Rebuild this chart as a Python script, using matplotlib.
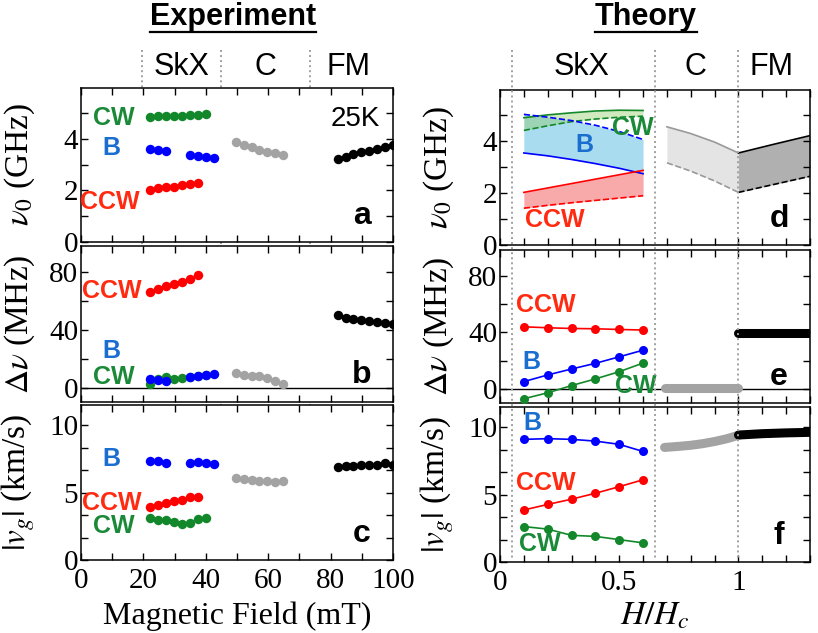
import numpy as np
import matplotlib
matplotlib.use('Agg')
import matplotlib.pyplot as plt
import matplotlib.transforms as mtransforms
from matplotlib.ticker import MultipleLocator, FuncFormatter
from matplotlib.lines import Line2D

plt.rcParams['font.family'] = 'serif'
plt.rcParams['font.serif'] = ['Liberation Serif', 'DejaVu Serif']
plt.rcParams['mathtext.fontset'] = 'stix'
SANS = 'Liberation Sans'

# colours
RED, BLUE, GREEN, GRAY = '#ff0000', '#0000ff', '#13882a', '#a3a3a3'
T_RED, T_BLUE, T_GREEN = '#ff2a10', '#1a6ecf', '#1a8a38'

# ---------------- experiment (field in mT) ----------------
field_cw = [22.2, 24.7, 27.3, 29.8, 32.4, 34.9, 37.5, 40.0]
field_ccw = [22.2, 24.7, 27.3, 29.8, 32.4, 34.9, 37.5]
field_b = [22.2, 24.7, 27.3, 34.9, 37.5, 40.0, 42.5]
field_c = [49.6, 52.1, 54.7, 57.2, 59.7, 62.3, 64.8]
field_fm = [82.3, 84.8, 87.3, 89.9, 92.4, 94.9, 97.5, 100.0]

# resonance frequency (GHz)
f_cw = [4.87, 4.88, 4.89, 4.90, 4.91, 4.92, 4.94, 4.96]
f_b = [3.62, 3.58, 3.55, 3.38, 3.35, 3.30, 3.25]
f_ccw = [2.02, 2.08, 2.12, 2.15, 2.20, 2.24, 2.30]
f_c = [3.88, 3.77, 3.67, 3.58, 3.51, 3.45, 3.36]
f_fm = [3.22, 3.32, 3.41, 3.49, 3.55, 3.62, 3.67, 3.75]

# nonreciprocity (MHz)
dn_ccw = [66.0, 68.5, 70.0, 71.5, 73.0, 75.5, 78.0]
dn_cw = [2.8, 6.0, 7.4, 5.8, 6.7, 7.0, 8.0, 8.5]
dn_b = [5.8, 5.0, 4.6, 7.4, 7.8, 9.0, 9.5]
dn_c = [9.8, 8.6, 8.2, 8.0, 6.5, 4.5, 2.4]
dn_fm = [50.0, 48.3, 47.2, 46.5, 46.0, 45.5, 45.0, 44.0]

# group velocity (km/s)
vg_b = [7.36, 7.33, 7.16, 7.16, 7.28, 7.16, 7.10]
vg_ccw = [3.95, 4.08, 4.20, 4.37, 4.44, 4.64, 4.64]
vg_cw = [3.09, 3.00, 2.96, 2.84, 2.69, 2.77, 3.04, 3.09]
vg_c = [6.12, 5.98, 5.93, 5.89, 5.89, 5.82, 5.89]
vg_fm = [6.91, 6.96, 6.99, 7.03, 7.03, 7.06, 7.18, 7.06]

# ---------------- theory (H/Hc) ----------------
h_skx = [0.1, 0.2, 0.3, 0.4, 0.5, 0.6]
th_cw_hi = [4.91, 5.02, 5.10, 5.17, 5.20, 5.19]
th_cw_lo = [4.42, 4.60, 4.76, 4.86, 4.93, 4.97]
th_b_hi = [5.04, 4.93, 4.80, 4.62, 4.38, 4.07]
th_b_lo = [3.55, 3.44, 3.30, 3.14, 2.96, 2.75]
th_ccw_hi = [2.03, 2.20, 2.37, 2.54, 2.71, 2.88]
th_ccw_lo = [1.42, 1.53, 1.63, 1.72, 1.81, 1.90]

h_c = [0.70, 0.80, 0.90, 1.00]
th_c_hi = [4.56, 4.30, 3.97, 3.55]
th_c_lo = [3.17, 2.85, 2.47, 2.03]
h_fm = [1.00, 1.15, 1.30]
th_fm_hi = [3.55, 3.89, 4.22]
th_fm_lo = [2.03, 2.34, 2.65]

th_dn_ccw = [43.8, 43.1, 42.6, 42.4, 41.9, 41.5]
th_dn_b = [5.1, 9.8, 14.0, 18.0, 22.6, 27.3]
th_dn_cw = [-7.0, -2.8, 2.3, 7.0, 12.1, 18.2]
h_dn_c = [0.69, 1.00]
th_dn_c = [0.5, 0.5]
h_dn_fm = [1.00, 1.30]
th_dn_fm = [39.6, 39.6]

th_vg_b = [9.10, 9.15, 9.10, 8.97, 8.73, 8.20]
th_vg_ccw = [3.86, 4.27, 4.66, 5.10, 5.59, 6.10]
th_vg_cw = [2.63, 2.44, 1.98, 1.90, 1.66, 1.42]
h_vg_c = [0.69, 0.75, 0.80, 0.85, 0.90, 0.95, 1.00]
th_vg_c = [8.50, 8.58, 8.66, 8.78, 8.94, 9.14, 9.40]
h_vg_fm = [1.00, 1.10, 1.20, 1.30]
th_vg_fm = [9.42, 9.52, 9.58, 9.62]

exp_bounds = [19.5, 44.8, 73.4]
th_bounds = [0.052, 0.65, 1.0]

W, H = 818, 633
fig = plt.figure(figsize=(W / 100, H / 100), dpi=100)


def px_axes(x0, x1, y0, y1):
    return fig.add_axes([x0 / W, 1 - y1 / H, (x1 - x0) / W, (y1 - y0) / H])


axa = px_axes(81, 393, 88, 242)
axb = px_axes(81, 393, 246, 402)
axc = px_axes(81, 393, 405, 560)
axd = px_axes(500, 810, 90, 245)
axe = px_axes(500, 810, 250, 403)
axf = px_axes(500, 810, 407, 562)


def style(ax, xmaj, xmin, ymaj, ymin):
    ax.xaxis.set_major_locator(MultipleLocator(xmaj))
    ax.xaxis.set_minor_locator(MultipleLocator(xmin))
    ax.yaxis.set_major_locator(MultipleLocator(ymaj))
    ax.yaxis.set_minor_locator(MultipleLocator(ymin))
    ax.tick_params(which='both', direction='in', top=True, right=True, width=1.0,
                   labelsize=21, pad=2)
    ax.tick_params(which='major', length=5)
    ax.tick_params(which='minor', length=5)
    ax.tick_params(axis='x', pad=6)
    for s in ax.spines.values():
        s.set_linewidth(1.1)


for ax in (axa, axb, axc):
    ax.set_xlim(0, 100)
for ax in (axd, axe, axf):
    ax.set_xlim(0, 1.3)
for ax in (axa, axd):
    ax.set_ylim(0, 5.98)
    style(ax, 20 if ax is axa else 0.5, 10 if ax is axa else 0.1, 2, 1)
for ax in (axb, axe):
    ax.set_ylim(-10, 98)
    style(ax, 20 if ax is axb else 0.5, 10 if ax is axb else 0.1, 40, 20)
    ax.axhline(0, color='black', lw=1.0, zorder=1)
for ax in (axc, axf):
    ax.set_ylim(0, 11.5)
    style(ax, 20 if ax is axc else 0.5, 10 if ax is axc else 0.1, 5, 5 / 3)
for ax in (axa, axb, axd, axe):
    ax.tick_params(labelbottom=False)
axf.xaxis.set_major_formatter(FuncFormatter(lambda v, p: f'{v:g}'))

# ---------- experiment panels ----------
ms = 6.8
def dots(ax, x, y, c):
    ax.plot(x, y, 'o', color=c, ms=ms, mec='none', zorder=3)

dots(axa, field_cw, f_cw, GREEN)
dots(axa, field_b[:3], f_b[:3], BLUE)
dots(axa, field_b[3:], f_b[3:], BLUE)
dots(axa, field_ccw, f_ccw, RED)
dots(axa, field_c, f_c, GRAY)
dots(axa, field_fm, f_fm, 'black')

dots(axb, field_ccw, dn_ccw, RED)
dots(axb, field_cw, dn_cw, GREEN)
dots(axb, field_b, dn_b, BLUE)
dots(axb, field_c, dn_c, GRAY)
dots(axb, field_fm, dn_fm, 'black')

dots(axc, field_b, vg_b, BLUE)
dots(axc, field_ccw, vg_ccw, RED)
dots(axc, field_cw, vg_cw, GREEN)
dots(axc, field_c, vg_c, GRAY)
dots(axc, field_fm, vg_fm, 'black')

lab = dict(family=SANS, fontweight='bold', fontsize=18, ha='center', va='center')
axa.text(10.4, 4.81, 'CW', color=T_GREEN, **lab)
axa.text(9.8, 3.65, 'B', color=T_BLUE, **lab)
axa.text(9.3, 1.57, 'CCW', color=T_RED, **lab)
axb.text(9.8, 67, 'CCW', color=T_RED, **lab)
axb.text(9.8, 25, 'B', color=T_BLUE, **lab)
axb.text(10.4, 7.4, 'CW', color=T_GREEN, **lab)
axc.text(9.8, 7.5, 'B', color=T_BLUE, **lab)
axc.text(9.8, 4.2, 'CCW', color=T_RED, **lab)
axc.text(10.4, 2.5, 'CW', color=T_GREEN, **lab)
axa.text(0.88, 0.8, '25K', transform=axa.transAxes, family=SANS, fontsize=20,
         ha='center', va='center')

# ---------- theory panels ----------
axd.fill_between(h_skx, th_b_lo, th_b_hi, color='#aadcf0', lw=0, zorder=1)
axd.fill_between(h_skx, th_cw_lo, th_cw_hi, color='#8cc860', alpha=0.4, lw=0, zorder=2)
axd.fill_between(h_skx, th_ccw_lo, th_ccw_hi, color='#f8aaaa', lw=0, zorder=1)
axd.plot(h_skx, th_cw_hi, '-', color=GREEN, lw=1.2, zorder=3)
axd.plot(h_skx, th_cw_lo, '--', color=GREEN, lw=1.2, zorder=3)
axd.plot(h_skx, th_b_hi, '--', color=BLUE, lw=1.2, zorder=3)
axd.plot(h_skx, th_b_lo, '-', color=BLUE, lw=1.2, zorder=3)
axd.plot(h_skx, th_ccw_hi, '-', color=RED, lw=1.2, zorder=3)
axd.plot(h_skx, th_ccw_lo, '--', color=RED, lw=1.2, zorder=3)
axd.fill_between(h_c, th_c_lo, th_c_hi, color='#e4e4e4', lw=0)
axd.plot(h_c, th_c_hi, '-', color='#999999', lw=1.2)
axd.plot(h_c, th_c_lo, '--', color='#999999', lw=1.2)
axd.fill_between(h_fm, th_fm_lo, th_fm_hi, color='#b0b0b0', lw=0)
axd.plot(h_fm, th_fm_hi, '-', color='black', lw=1.2)
axd.plot(h_fm, th_fm_lo, '--', color='black', lw=1.2)

def line_dots(ax, x, y, c):
    ax.plot(x, y, '-o', color=c, lw=1.2, ms=6.5, mec='none', zorder=3)

line_dots(axe, h_skx, th_dn_ccw, RED)
line_dots(axe, h_skx, th_dn_b, BLUE)
line_dots(axe, h_skx, th_dn_cw, GREEN)
axe.plot(h_dn_c, th_dn_c, '-', color=GRAY, lw=6.5, solid_capstyle='round', zorder=3)
axe.plot(h_dn_fm, th_dn_fm, '-', color='black', lw=6.5, solid_capstyle='round', zorder=3)

line_dots(axf, h_skx, th_vg_b, BLUE)
line_dots(axf, h_skx, th_vg_ccw, RED)
line_dots(axf, h_skx, th_vg_cw, GREEN)
axf.plot(h_vg_c, th_vg_c, '-', color=GRAY, lw=6.5, solid_capstyle='round', zorder=3)
axf.plot(h_vg_fm, th_vg_fm, '-', color='black', lw=6.5, solid_capstyle='round', zorder=3)

axd.text(0.555, 4.5, 'CW', color=T_GREEN, **lab)
axd.text(0.353, 3.87, 'B', color=T_BLUE, **lab)
axd.text(0.228, 0.97, 'CCW', color=T_RED, **lab)
axe.text(0.193, 59.4, 'CCW', color=T_RED, **lab)
axe.text(0.13, 18.7, 'B', color=T_BLUE, **lab)
axe.text(0.57, 2.3, 'CW', color=T_GREEN, **lab)
axf.text(0.137, 10.3, 'B', color=T_BLUE, **lab)
axf.text(0.193, 5.85, 'CCW', color=T_RED, **lab)
axf.text(0.165, 1.3, 'CW', color=T_GREEN, **lab)

# panel letters
for ax, letter in ((axa, 'a'), (axb, 'b'), (axc, 'c'), (axd, 'd'), (axe, 'e'), (axf, 'f')):
    ax.text(0.9, 0.17, letter, transform=ax.transAxes, family=SANS, fontweight='bold',
            fontsize=23, ha='center', va='center', zorder=5)

# axis labels
for ax in (axa, axd):
    ax.set_ylabel(r'$\nu_0$ (GHz)', fontsize=24)
for ax in (axb, axe):
    ax.set_ylabel(r'$\Delta\nu$ (MHz)', fontsize=24)
for ax in (axc, axf):
    ax.set_ylabel(r'$|v_g|$ (km/s)', fontsize=24)
for ax in (axa, axb, axc):
    ax.yaxis.set_label_coords(-0.14, 0.5)
for ax in (axd, axe, axf):
    ax.yaxis.set_label_coords(-0.143, 0.5)
axc.set_xlabel('Magnetic Field (mT)', fontsize=23)
axc.xaxis.set_label_coords(0.5, -0.265)
axf.set_xlabel(r'$H/H_c$', fontsize=24)
axf.xaxis.set_label_coords(0.5, -0.25)

# phase boundaries (dotted, running up into the header)
ytop, ybot = 1 - 50 / H, 1 - 560 / H
for axref, bounds, z in ((axc, exp_bounds, 0), (axf, th_bounds, 10)):
    tr = mtransforms.blended_transform_factory(axref.transData, fig.transFigure)
    for b in bounds:
        fig.add_artist(Line2D([b, b], [ytop, ybot], transform=tr, color='#a0a0a0',
                              lw=1.4, ls=(0, (1, 1.6)), zorder=z))

# phase headers
hdr = dict(family=SANS, fontsize=22, ha='center', va='center')
trl = mtransforms.blended_transform_factory(axa.transData, fig.transFigure)
trr = mtransforms.blended_transform_factory(axd.transData, fig.transFigure)
for x, s in ((32.3, 'SkX'), (59.0, 'C'), (85.7, 'FM')):
    fig.text(x, 1 - 67 / H, s, transform=trl, **hdr)
for x, s in ((0.34, 'SkX'), (0.82, 'C'), (1.14, 'FM')):
    fig.text(x, 1 - 67 / H, s, transform=trr, **hdr)

# titles, underlined
titles = [fig.text(233 / W, 1 - 17 / H, 'Experiment', family=SANS, fontweight='bold',
                   fontsize=22, ha='center', va='center'),
          fig.text(646 / W, 1 - 17 / H, 'Theory', family=SANS, fontweight='bold',
                   fontsize=22, ha='center', va='center')]
fig.canvas.draw()
r = fig.canvas.get_renderer()
for t in titles:
    bb = t.get_window_extent(renderer=r)
    yline = (H - 32) / H
    fig.add_artist(Line2D([bb.x0 / W, bb.x1 / W], [yline, yline], color='black', lw=1.6))

fig.savefig('out.png', dpi=100)
